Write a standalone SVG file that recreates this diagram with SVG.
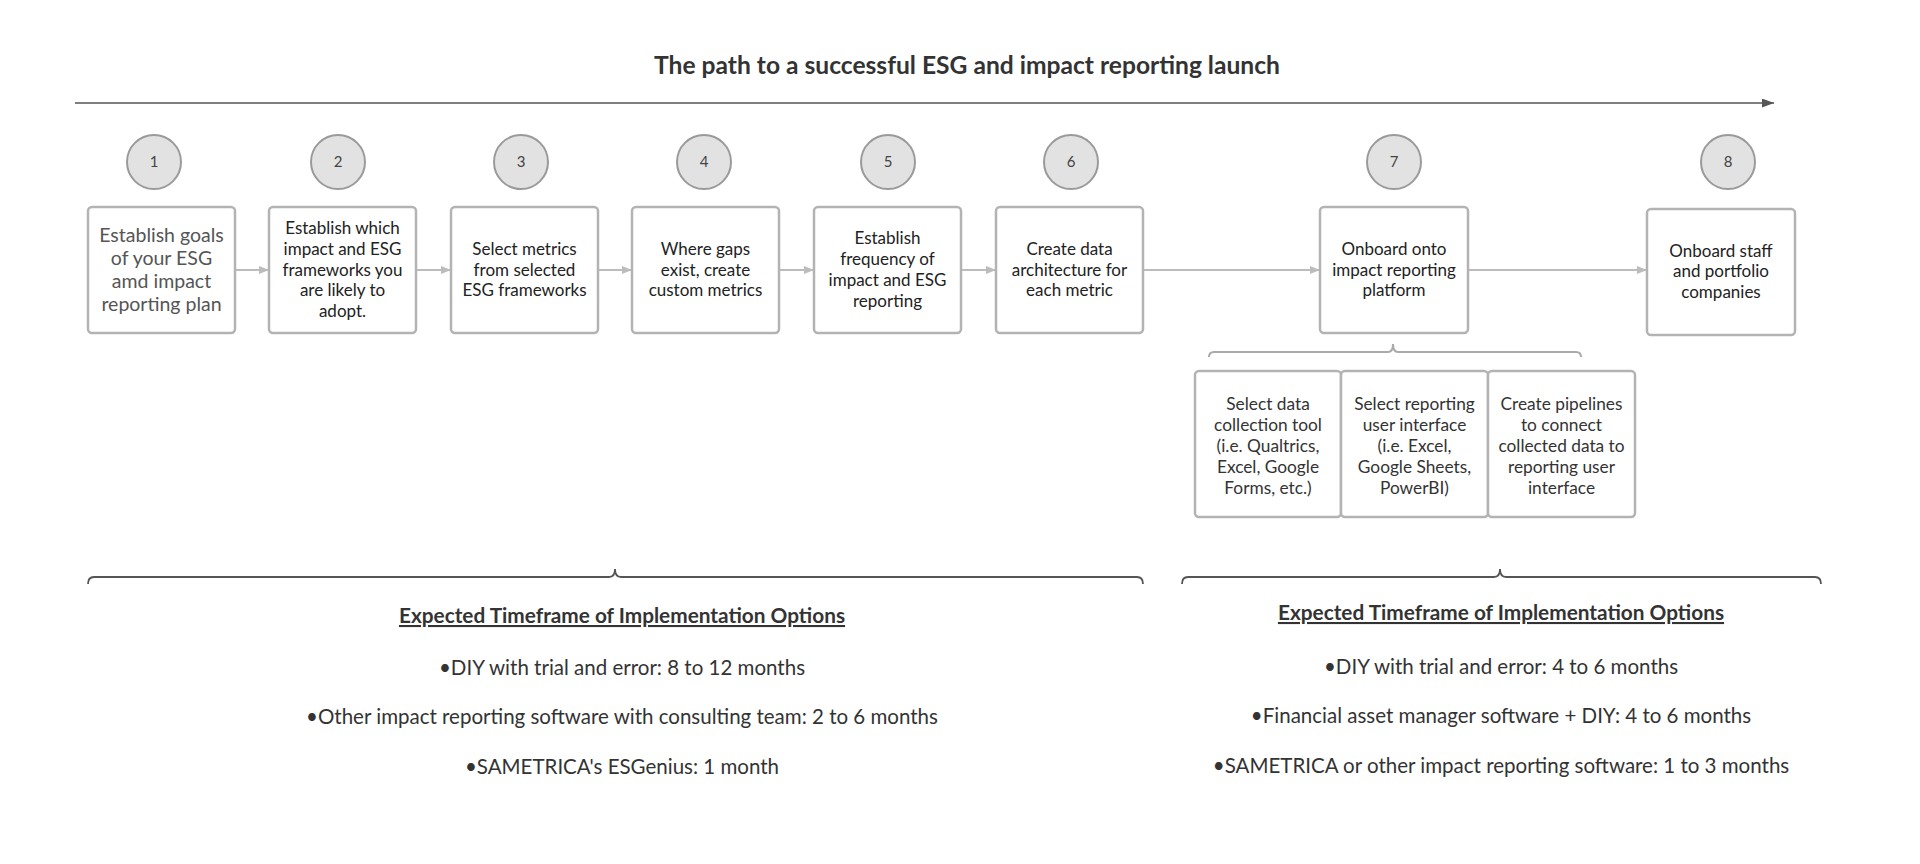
<svg xmlns="http://www.w3.org/2000/svg" width="1920" height="864" viewBox="0 0 1920 864">
<defs>
<style>
text{font-family:Lato,"Liberation Sans",sans-serif;}
.title{font-size:24.6px;font-weight:bold;fill:#333;text-anchor:middle;}
.num{font-size:15px;fill:#444;text-anchor:middle;}
.circ{fill:#e2e2e2;stroke:#9a9a9a;stroke-width:2;}
.box{fill:#fff;stroke:#b3b3b3;stroke-width:2.5;}
.bt{font-size:17px;fill:#222;text-anchor:middle;}
.bt1{font-size:19.5px;fill:#555;text-anchor:middle;}
.st{font-size:17.3px;fill:#333;text-anchor:middle;}
.conn{stroke:#bcbcbc;stroke-width:2;fill:none;}
.brace1{stroke:#aaa;stroke-width:2;fill:none;}
.brace2{stroke:#555;stroke-width:1.8;fill:none;}
.hd{font-size:20.8px;font-weight:bold;fill:#333;text-anchor:middle;text-decoration:underline;}
.bl{font-size:20.5px;fill:#333;text-anchor:middle;}
</style>
<marker id="ah" markerWidth="10" markerHeight="8" refX="10" refY="4" orient="auto" markerUnits="userSpaceOnUse">
<path d="M0,0 L10,4 L0,8 Z" fill="#bcbcbc"/>
</marker>
<marker id="ah2" markerWidth="12" markerHeight="9" refX="12" refY="4.5" orient="auto" markerUnits="userSpaceOnUse">
<path d="M0,0 L12,4.5 L0,9 Z" fill="#555"/>
</marker>
</defs>
<rect width="1920" height="864" fill="#fff"/>
<text class="title" x="967" y="74">The path to a successful ESG and impact reporting launch</text>
<g id="connectors">
<line x1="75" y1="103" x2="1774" y2="103" stroke="#555" stroke-width="1.5" marker-end="url(#ah2)"/>
<line class="conn" x1="235" y1="270" x2="269" y2="270" marker-end="url(#ah)"/>
<line class="conn" x1="416" y1="270" x2="451" y2="270" marker-end="url(#ah)"/>
<line class="conn" x1="598" y1="270" x2="632" y2="270" marker-end="url(#ah)"/>
<line class="conn" x1="779" y1="270" x2="814" y2="270" marker-end="url(#ah)"/>
<line class="conn" x1="961" y1="270" x2="996" y2="270" marker-end="url(#ah)"/>
<line class="conn" x1="1143" y1="270" x2="1320" y2="270" marker-end="url(#ah)"/>
<line class="conn" x1="1468" y1="270" x2="1647" y2="270" marker-end="url(#ah)"/>
<path class="brace1" d="M1209,357 Q1209,352 1214,352 L1388,352 Q1393,352 1393,344 Q1393,352 1398,352 L1576,352 Q1581,352 1581,357"/>
<path class="brace2" d="M88,584 Q88,577 94,577 L609,577 Q615,577 615,569 Q615,577 621,577 L1137,577 Q1143,577 1143,584"/>
<path class="brace2" d="M1182,584 Q1182,577 1188,577 L1494,577 Q1500,577 1500,569 Q1500,577 1506,577 L1815,577 Q1821,577 1821,584"/>
</g>
<g id="c1"><circle class="circ" cx="154" cy="162" r="27"/><text class="num" x="154" y="167">1</text></g>
<g id="c2"><circle class="circ" cx="338" cy="162" r="27"/><text class="num" x="338" y="167">2</text></g>
<g id="c3"><circle class="circ" cx="521" cy="162" r="27"/><text class="num" x="521" y="167">3</text></g>
<g id="c4"><circle class="circ" cx="704" cy="162" r="27"/><text class="num" x="704" y="167">4</text></g>
<g id="c5"><circle class="circ" cx="888" cy="162" r="27"/><text class="num" x="888" y="167">5</text></g>
<g id="c6"><circle class="circ" cx="1071" cy="162" r="27"/><text class="num" x="1071" y="167">6</text></g>
<g id="c7"><circle class="circ" cx="1394" cy="162" r="27"/><text class="num" x="1394" y="167">7</text></g>
<g id="c8"><circle class="circ" cx="1728" cy="162" r="27"/><text class="num" x="1728" y="167">8</text></g>
<g id="b1"><rect class="box" x="88" y="207" width="147" height="126" rx="4"/>
<text class="bt1" x="161.5"><tspan x="161.5" y="242">Establish goals</tspan><tspan x="161.5" y="265">of your ESG</tspan><tspan x="161.5" y="288">amd impact</tspan><tspan x="161.5" y="311">reporting plan</tspan></text></g>
<g id="b2"><rect class="box" x="269" y="207" width="147" height="126" rx="4"/>
<text class="bt"><tspan x="342.5" y="234">Establish which</tspan><tspan x="342.5" y="255">impact and ESG</tspan><tspan x="342.5" y="276">frameworks you</tspan><tspan x="342.5" y="296">are likely to</tspan><tspan x="342.5" y="317">adopt.</tspan></text></g>
<g id="b3"><rect class="box" x="451" y="207" width="147" height="126" rx="4"/>
<text class="bt"><tspan x="524.5" y="255">Select metrics</tspan><tspan x="524.5" y="276">from selected</tspan><tspan x="524.5" y="296">ESG frameworks</tspan></text></g>
<g id="b4"><rect class="box" x="632" y="207" width="147" height="126" rx="4"/>
<text class="bt"><tspan x="705.5" y="255">Where gaps</tspan><tspan x="705.5" y="276">exist, create</tspan><tspan x="705.5" y="296">custom metrics</tspan></text></g>
<g id="b5"><rect class="box" x="814" y="207" width="147" height="126" rx="4"/>
<text class="bt"><tspan x="887.5" y="244">Establish</tspan><tspan x="887.5" y="265">frequency of</tspan><tspan x="887.5" y="286">impact and ESG</tspan><tspan x="887.5" y="307">reporting</tspan></text></g>
<g id="b6"><rect class="box" x="996" y="207" width="147" height="126" rx="4"/>
<text class="bt"><tspan x="1069.5" y="255">Create data</tspan><tspan x="1069.5" y="276">architecture for</tspan><tspan x="1069.5" y="296">each metric</tspan></text></g>
<g id="b7"><rect class="box" x="1320" y="207" width="148" height="126" rx="4"/>
<text class="bt"><tspan x="1394" y="255">Onboard onto</tspan><tspan x="1394" y="276">impact reporting</tspan><tspan x="1394" y="296">platform</tspan></text></g>
<g id="b8"><rect class="box" x="1647" y="209" width="148" height="126" rx="4"/>
<text class="bt"><tspan x="1721" y="257">Onboard staff</tspan><tspan x="1721" y="277">and portfolio</tspan><tspan x="1721" y="298">companies</tspan></text></g>
<g id="s1"><rect class="box" x="1195" y="371" width="146" height="146" rx="4"/>
<text class="st"><tspan x="1268" y="409.5">Select data</tspan><tspan x="1268" y="430.5">collection tool</tspan><tspan x="1268" y="451.5">(i.e. Qualtrics,</tspan><tspan x="1268" y="473">Excel, Google</tspan><tspan x="1268" y="494">Forms, etc.)</tspan></text></g>
<g id="s2"><rect class="box" x="1341" y="371" width="147" height="146" rx="4"/>
<text class="st"><tspan x="1414.5" y="409.5">Select reporting</tspan><tspan x="1414.5" y="430.5">user interface</tspan><tspan x="1414.5" y="451.5">(i.e. Excel,</tspan><tspan x="1414.5" y="473">Google Sheets,</tspan><tspan x="1414.5" y="494">PowerBI)</tspan></text></g>
<g id="s3"><rect class="box" x="1488" y="371" width="147" height="146" rx="4"/>
<text class="st"><tspan x="1561.5" y="409.5">Create pipelines</tspan><tspan x="1561.5" y="430.5">to connect</tspan><tspan x="1561.5" y="451.5">collected data to</tspan><tspan x="1561.5" y="473">reporting user</tspan><tspan x="1561.5" y="494">interface</tspan></text></g>
<g id="left-timeframe">
<text class="hd" x="622" y="623">Expected Timeframe of Implementation Options</text>
<text class="bl" x="622" y="675">•DIY with trial and error: 8 to 12 months</text>
<text class="bl" x="622" y="724">•Other impact reporting software with consulting team: 2 to 6 months</text>
<text class="bl" x="622" y="774">•SAMETRICA's ESGenius: 1 month</text>
</g>
<g id="right-timeframe">
<text class="hd" x="1501" y="620">Expected Timeframe of Implementation Options</text>
<text class="bl" x="1501" y="674">•DIY with trial and error: 4 to 6 months</text>
<text class="bl" x="1501" y="723">•Financial asset manager software + DIY: 4 to 6 months</text>
<text class="bl" x="1501" y="773">•SAMETRICA or other impact reporting software: 1 to 3 months</text>
</g>
</svg>
